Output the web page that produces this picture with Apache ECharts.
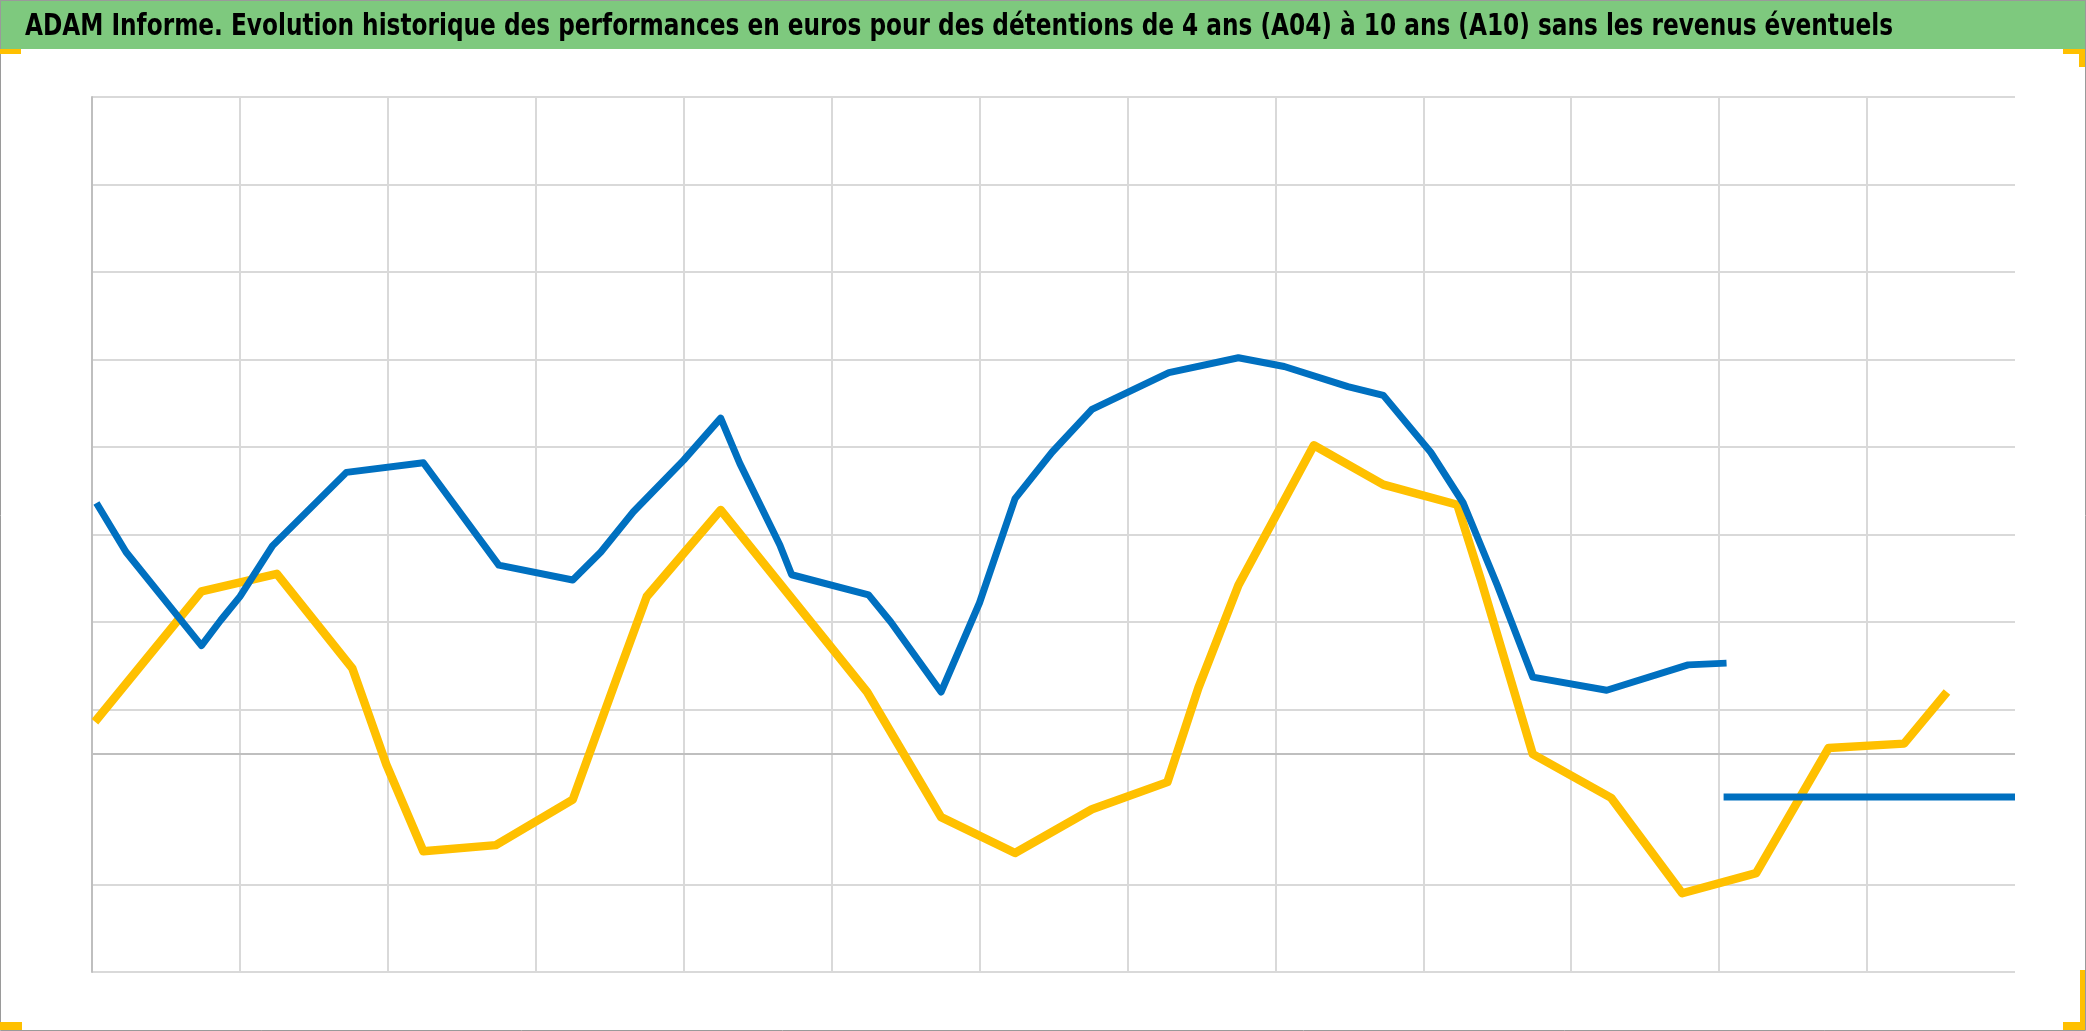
<!DOCTYPE html>
<html><head><meta charset="utf-8">
<script src="https://cdn.jsdelivr.net/npm/echarts@6/dist/echarts.min.js"></script>
<style>html,body{margin:0;padding:0;background:#fff;overflow:hidden}#c{width:2086px;height:1031px}</style>
</head><body><div id="c"></div>
<script>
const titleText = "ADAM Informe. Evolution historique des performances en euros pour des détentions de 4 ans (A04) à 10 ans (A10) sans les revenus éventuels";

// x: time position (13 periods between vertical gridlines); y: performance in gridline units
const a10X = [0.03,0.23,0.74,0.87,1.00,1.22,1.72,2.24,2.75,3.25,3.44,3.66,4.00,4.25,4.38,4.65,4.73,5.25,5.40,5.74,6.00,6.24,6.49,6.76,7.28,7.75,8.06,8.49,8.73,9.05,9.27,9.50,9.74,10.24,10.79,11.05];
const a10Y = [5.36,4.80,3.73,4.02,4.29,4.87,5.71,5.82,4.65,4.48,4.80,5.26,5.85,6.33,5.81,4.88,4.54,4.31,4.00,3.20,4.22,5.41,5.94,6.43,6.85,7.02,6.92,6.69,6.59,5.94,5.36,4.42,3.37,3.22,3.51,3.53];
const a10TailX = [11.03,13.00];
const a10TailY = [2.00,2.00];
const a04X = [0.02,0.74,1.25,1.76,1.99,2.24,2.73,3.25,3.55,3.75,4.25,5.24,5.74,6.24,6.76,7.27,7.48,7.75,8.26,8.73,9.23,9.39,9.74,10.27,10.75,11.25,11.74,12.25,12.54];
const a04Y = [2.86,4.35,4.55,3.47,2.37,1.38,1.45,1.97,3.37,4.29,5.28,3.20,1.77,1.36,1.86,2.17,3.25,4.42,6.02,5.57,5.34,4.48,2.49,1.99,0.90,1.13,2.56,2.61,3.20];
const yBaseline = 2.5;

const zip = (xs, ys) => xs.map((x, i) => [x, ys[i]]);
const blue = '#0070C0', gold = '#FFC000';

// title font: condensed bold, horizontally fitted to the reference width
const titleFont = "bold 31px 'DejaVu Sans Condensed', 'DejaVu Sans', sans-serif";
const titleLeft = 25, titleRight = 1893;
const mctx = document.createElement('canvas').getContext('2d');
mctx.font = titleFont;
const measured = mctx.measureText(titleText).width || 1;
const titleScaleX = (titleRight - titleLeft) / measured;

const chart = echarts.init(document.getElementById('c'), null, {renderer: 'canvas'});
const gridColors = ['#d9d9d9','#d9d9d9','rgba(0,0,0,0)','#d9d9d9','#d9d9d9','#d9d9d9','#d9d9d9','#d9d9d9','#d9d9d9','#d9d9d9','#d9d9d9'];
chart.setOption({
  animation: false,
  backgroundColor: '#ffffff',
  graphic: [
    {type: 'rect', z: -10, shape: {x: 0, y: 0, width: 2086, height: 49}, style: {fill: '#7ec97e'}, silent: true},
    {type: 'text', z: 50, x: titleLeft, y: 27, scaleX: titleScaleX, silent: true,
      style: {text: titleText, font: titleFont, fill: '#000', verticalAlign: 'middle', align: 'left'}},
    {type: 'rect', z: 100, shape: {x: 0.5, y: 0.5, width: 2085, height: 1030}, style: {fill: 'none', stroke: '#9a9a9a', lineWidth: 1}, silent: true},
    {type: 'rect', z: 100, shape: {x: 0, y: 49, width: 21, height: 5}, style: {fill: gold}, silent: true},
    {type: 'rect', z: 100, shape: {x: 2063, y: 49, width: 22, height: 5}, style: {fill: gold}, silent: true},
    {type: 'rect', z: 100, shape: {x: 2079, y: 49, width: 6, height: 18}, style: {fill: gold}, silent: true},
    {type: 'rect', z: 100, shape: {x: 2080, y: 970, width: 5, height: 60}, style: {fill: gold}, silent: true},
    {type: 'rect', z: 100, shape: {x: 2063, y: 1022, width: 22, height: 8}, style: {fill: gold}, silent: true},
    {type: 'rect', z: 100, shape: {x: 0, y: 1022, width: 22, height: 8}, style: {fill: gold}, silent: true}
  ],
  grid: {left: 92, top: 97, width: 1923, height: 875},
  xAxis: {
    type: 'value', min: 0, max: 13, interval: 1,
    axisLine: {show: false}, axisTick: {show: false}, axisLabel: {show: false},
    splitLine: {show: true, showMaxLine: false, lineStyle: {color: '#d9d9d9', width: 2}}
  },
  yAxis: {
    type: 'value', min: 0, max: 10, interval: 1,
    axisLine: {show: true, lineStyle: {color: '#bfbfbf', width: 2}}, axisTick: {show: false}, axisLabel: {show: false},
    splitLine: {show: true, lineStyle: {color: gridColors, width: 2}}
  },
  series: [
    {
      name: 'A04', type: 'line', data: zip(a04X, a04Y), symbol: 'none', z: 2,
      lineStyle: {color: gold, width: 8.5, join: 'round', cap: 'butt'},
      markLine: {silent: true, symbol: 'none', label: {show: false}, lineStyle: {color: '#bfbfbf', width: 2, type: 'solid'}, data: [{yAxis: yBaseline}], z: 1}
    },
    {
      name: 'A10', type: 'line', data: zip(a10X, a10Y), symbol: 'none', z: 3,
      lineStyle: {color: blue, width: 7, join: 'round', cap: 'butt'}
    },
    {
      name: 'A10 (fin)', type: 'line', data: zip(a10TailX, a10TailY), symbol: 'none', z: 3,
      lineStyle: {color: blue, width: 7, cap: 'butt'}
    }
  ]
});
</script>
</body></html>
